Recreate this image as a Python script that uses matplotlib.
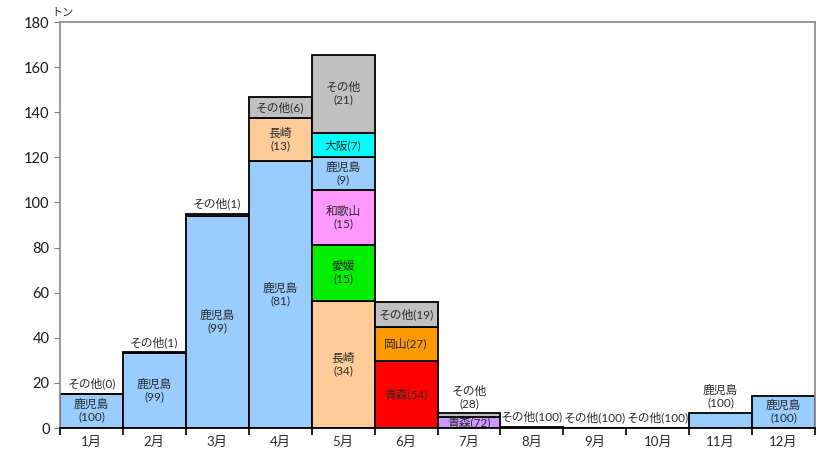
"""月別・産地別の入荷量（積み上げ棒グラフ）。"""

import matplotlib
matplotlib.use("Agg")
import matplotlib.pyplot as plt
from matplotlib.ticker import FixedLocator, MultipleLocator

plt.rcParams.update({
    "font.family": ["Lato", "Noto Sans CJK JP", "DejaVu Sans"],
    "font.size": 8.5,
    "figure.facecolor": "white",
    "axes.facecolor": "white",
})

months = ["1月", "2月", "3月", "4月", "5月", "6月",
          "7月", "8月", "9月", "10月", "11月", "12月"]

# 月ごとの積み上げ順（下から）
seg_names = [
    ["鹿児島", "その他"],
    ["鹿児島", "その他"],
    ["鹿児島", "その他"],
    ["鹿児島", "長崎", "その他"],
    ["長崎", "愛媛", "和歌山", "鹿児島", "大阪", "その他"],
    ["青森", "岡山", "その他"],
    ["青森", "その他"],
    ["その他"],
    ["その他"],
    ["その他"],
    ["鹿児島"],
    ["鹿児島"],
]

# 数量（トン）
seg_values = [
    [15.1, 0.05],
    [33.4, 0.3],
    [94.0, 0.9],
    [118.3, 19.1, 9.3],
    [56.3, 24.8, 24.4, 14.5, 10.9, 34.4],
    [29.7, 15.2, 10.8],
    [4.7, 1.9],
    [0.5],
    [0.1],
    [0.1],
    [6.8],
    [14.3],
]

# ラベル（シェア%）
seg_labels = [
    ["鹿児島\n(100)", "その他(0)"],
    ["鹿児島\n(99)", "その他(1)"],
    ["鹿児島\n(99)", "その他(1)"],
    ["鹿児島\n(81)", "長崎\n(13)", "その他(6)"],
    ["長崎\n(34)", "愛媛\n(15)", "和歌山\n(15)", "鹿児島\n(9)", "大阪(7)", "その他\n(21)"],
    ["青森(54)", "岡山(27)", "その他(19)"],
    ["青森(72)", "その他\n(28)"],
    ["その他(100)"],
    ["その他(100)"],
    ["その他(100)"],
    ["鹿児島\n(100)"],
    ["鹿児島\n(100)"],
]

COLORS = {
    "鹿児島": "#99CCFF",
    "その他": "#C0C0C0",
    "長崎": "#FFCC99",
    "愛媛": "#00EE00",
    "和歌山": "#FF99FF",
    "大阪": "#00FFFF",
    "青森": "#FF0000",
    "岡山": "#FF9900",
}
# 7月の青森だけ色が違う
COLOR_OVERRIDE = {(6, "青森"): "#CC99FF"}

TEXT = "#2b2b2b"

fig = plt.figure(figsize=(8.22, 4.57), dpi=100)
ax = fig.add_axes([60 / 822, 29 / 457, 755 / 822, 406 / 457])

for i, (names, vals, labels) in enumerate(zip(seg_names, seg_values, seg_labels)):
    bottom = 0.0
    for j, (name, val, lab) in enumerate(zip(names, vals, labels)):
        color = COLOR_OVERRIDE.get((i, name), COLORS[name])
        ax.bar(i + 0.5, val, width=1.0, bottom=bottom, color=color,
               edgecolor="black", linewidth=1.3, zorder=2)
        is_top = j == len(names) - 1
        if is_top and val < 8:
            # 小さい区分は棒の上に表示
            ax.annotate(lab, xy=(i + 0.5, bottom + val), xytext=(0, 3),
                        textcoords="offset points", ha="center", va="bottom",
                        color=TEXT, linespacing=1.15, zorder=3)
        else:
            ax.text(i + 0.5, bottom + val / 2, lab, ha="center", va="center",
                    color=TEXT, linespacing=1.15, zorder=3)
        bottom += val

ax.set_xlim(0, 12)
ax.set_ylim(0, 180)
ax.yaxis.set_major_locator(MultipleLocator(20))

ax.set_xticks([i + 0.5 for i in range(12)])
ax.set_xticklabels(months, fontsize=9.5, color=TEXT)
ax.xaxis.set_minor_locator(FixedLocator(range(13)))
ax.tick_params(axis="x", which="major", length=0, pad=6)
ax.tick_params(axis="x", which="minor", length=5, width=1.2, color="black")
ax.tick_params(axis="y", length=4, color="#808080", labelsize=10.5, labelcolor="#1a1a1a")

for side in ("left", "top", "right"):
    ax.spines[side].set_color("#888888")
    ax.spines[side].set_linewidth(1.2)
ax.spines["bottom"].set_color("black")
ax.spines["bottom"].set_linewidth(1.3)
ax.spines["bottom"].set_zorder(4)

ax.text(0.003, 1.025, "トン", transform=ax.transAxes, ha="center", va="center",
        fontsize=8, color=TEXT)

fig.savefig("out.png", dpi=100, facecolor="white")
plt.close(fig)
